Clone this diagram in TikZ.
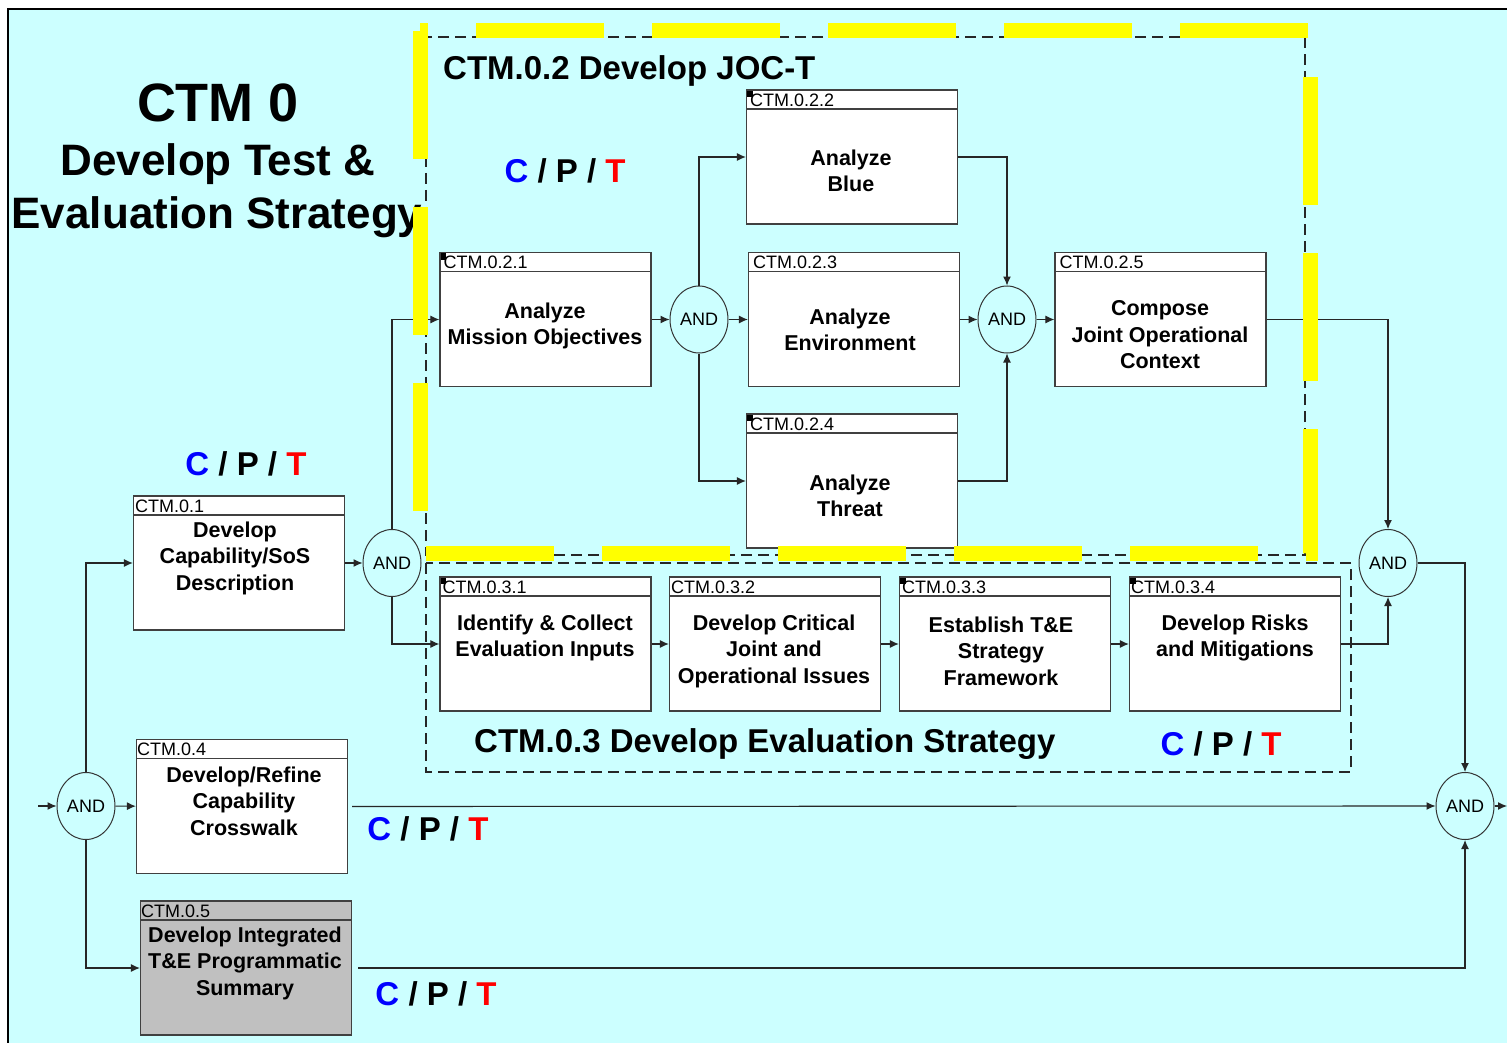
\documentclass[tikz,border=0pt]{standalone}
\usepackage{fontspec}
\setmainfont{Liberation Sans}
\usetikzlibrary{arrows.meta, positioning, shapes.geometric}

\definecolor{sheet}{RGB}{204,255,255}
\definecolor{marker}{RGB}{255,255,0}
\definecolor{cblue}{RGB}{0,0,255}
\definecolor{tred}{RGB}{255,0,0}
\definecolor{shade}{RGB}{192,192,192}

\newcommand{\cpt}{{\color{cblue}C} / P / {\color{tred}T}}

\begin{document}
\begin{tikzpicture}[
    x=1pt, y=-1pt,
    taskbox/.style={
        rectangle,
        draw=black!75,
        line width=1.2pt,
        fill=white,
        minimum width=211pt,
        minimum height=134pt,
        inner sep=0pt,
        path picture={
            \draw[black!75, line width=1.2pt] ([yshift=-19pt]path picture bounding box.north west) -- ([yshift=-19pt]path picture bounding box.north east);
        }
    },
    marked/.style={
        taskbox,
        path picture={
            \draw[black!75, line width=1.2pt] ([yshift=-19pt]path picture bounding box.north west) -- ([yshift=-19pt]path picture bounding box.north east);
            \fill[black] (path picture bounding box.north west) rectangle ([xshift=6pt, yshift=-7pt]path picture bounding box.north west);
        }
    },
    idtext/.style={font=\fontsize{18}{20}\selectfont, inner sep=0pt, anchor=base west},
    tasktext/.style={font=\fontsize{21.5}{26.5}\selectfont\bfseries, align=center, inner sep=0pt},
    gate/.style={
        ellipse,
        draw=black!80,
        line width=1pt,
        minimum width=58pt,
        minimum height=67pt,
        inner sep=0pt,
        font=\fontsize{18}{20}\selectfont
    },
    conn/.style={-{Latex[length=9pt, width=8pt]}, line width=1.1pt, draw=black!85},
    group/.style={draw=black!85, line width=1.5pt, dash pattern=on 11pt off 6pt},
    hilite/.style={draw=marker, line width=15pt, dash pattern=on 128pt off 48pt},
    cptlabel/.style={font=\fontsize{33}{36}\selectfont\bfseries, inner sep=0pt, anchor=base},
    sectitle/.style={font=\fontsize{33}{36}\selectfont\bfseries, inner sep=0pt, anchor=base west}
]

% Sheet
\useasboundingbox (0,0) rectangle (1507,1043);
\fill[white] (0,0) rectangle (1507,1043);
\fill[sheet] (8,9) rectangle (1507,1043);
\draw[line width=2.5pt] (8,1043) -- (8,9) -- (1507,9);

% Title
\node[inner sep=0pt, anchor=base, font=\fontsize{54}{60}\selectfont\bfseries] (t0) at (218,122) {CTM 0};
\node[inner sep=0pt, anchor=base, font=\fontsize{44}{50}\selectfont\bfseries] (t1) at (218,176) {Develop Test \&};
\node[inner sep=0pt, anchor=base, font=\fontsize{44}{50}\selectfont\bfseries] (t2) at (217,229) {Evaluation Strategy};

% Groups
\draw[group] (426,37) rectangle (1305,555);
\draw[group] (426,563) rectangle (1351,772);
\node[sectitle] (g02t) at (443,80) {CTM.0.2 Develop JOC-T};
\node[sectitle] (g03t) at (474,752) {CTM.0.3 Develop Evaluation Strategy};

% Gates
\node[gate] (a1) at (86,806) {AND};
\node[gate] (a2) at (392,563) {AND};
\node[gate] (a3) at (699,319.5) {AND};
\node[gate] (a4) at (1007,319.5) {AND};
\node[gate] (a5) at (1388,563) {AND};
\node[gate] (a6) at (1465,806) {AND};

% Tasks
\node[taskbox] (b01) at (239,563) {};
\node[idtext] (b01id) at ([xshift=2pt, yshift=-17pt]b01.north west) {CTM.0.1};
\node[tasktext] (b01t) at (235,558) {Develop\\Capability/SoS\\Description};

\node[marked] (b021) at (545.5,319.5) {};
\node[idtext] (b021id) at ([xshift=4pt, yshift=-17pt]b021.north west) {CTM.0.2.1};
\node[tasktext] (b021t) at (545,326) {Analyze\\Mission Objectives};

\node[marked] (b022) at (852,157) {};
\node[idtext] (b022id) at ([xshift=4pt, yshift=-17pt]b022.north west) {CTM.0.2.2};
\node[tasktext] (b022t) at (851,171) {Analyze\\Blue};

\node[taskbox] (b023) at (854,319.5) {};
\node[idtext] (b023id) at ([xshift=5pt, yshift=-17pt]b023.north west) {CTM.0.2.3};
\node[tasktext] (b023t) at (850,330) {Analyze\\Environment};

\node[marked] (b024) at (852,481) {};
\node[idtext] (b024id) at ([xshift=4pt, yshift=-17pt]b024.north west) {CTM.0.2.4};
\node[tasktext] (b024t) at (850,496) {Analyze\\Threat};

\node[taskbox] (b025) at (1160.5,319.5) {};
\node[idtext] (b025id) at ([xshift=5pt, yshift=-17pt]b025.north west) {CTM.0.2.5};
\node[tasktext] (b025t) at (1160,335) {Compose\\Joint Operational\\Context};

\node[marked] (b031) at (545.5,644) {};
\node[idtext] (b031id) at ([xshift=3pt, yshift=-17pt]b031.north west) {CTM.0.3.1};
\node[tasktext] (b031t) at (545,638) {Identify \& Collect\\Evaluation Inputs};

\node[taskbox] (b032) at (775,644) {};
\node[idtext] (b032id) at ([xshift=2pt, yshift=-17pt]b032.north west) {CTM.0.3.2};
\node[tasktext] (b032t) at (774,651) {Develop Critical\\Joint and\\Operational Issues};

\node[marked] (b033) at (1005,644) {};
\node[idtext] (b033id) at ([xshift=3pt, yshift=-17pt]b033.north west) {CTM.0.3.3};
\node[tasktext] (b033t) at (1001,651) {Establish T\&E\\Strategy\\Framework};

\node[marked] (b034) at (1235,644) {};
\node[idtext] (b034id) at ([xshift=2pt, yshift=-17pt]b034.north west) {CTM.0.3.4};
\node[tasktext] (b034t) at (1235,638) {Develop Risks\\and Mitigations};

\node[taskbox] (b04) at (242,806.5) {};
\node[idtext] (b04id) at ([xshift=1pt, yshift=-17pt]b04.north west) {CTM.0.4};
\node[tasktext] (b04t) at (244,801) {Develop/Refine\\Capability\\Crosswalk};

\node[taskbox, fill=shade] (b05) at (246,968) {};
\node[idtext] (b05id) at ([xshift=1pt, yshift=-17pt]b05.north west) {CTM.0.5};
\node[tasktext] (b05t) at (245,963) {Develop Integrated\\T\&E Programmatic\\Summary};

% C/P/T tags
\node[cptlabel] (c02) at (565,183) {\cpt};
\node[cptlabel] (c01) at (246,475) {\cpt};
\node[cptlabel] (c03) at (1221,755) {\cpt};
\node[cptlabel] (c04) at (428,840) {\cpt};
\node[cptlabel] (c05) at (436,1005) {\cpt};

% Flow
\coordinate (src) at (38,806);
\coordinate (snk) at (1507,806);
\draw[conn] (src) -- (a1);
\draw[conn] (a1) -- (b04);
\draw[conn] (a1.north) |- (b01.west);
\draw[conn] (a1.south) |- (b05.west);
\draw[conn] (b01) -- (a2);
\draw[conn] (a2.north) |- (b021.west);
\draw[conn] (a2.south) |- (b031.west);
\draw[conn] (b021) -- (a3);
\draw[conn] (a3) -- (b023);
\draw[conn] (a3.north) |- (b022.west);
\draw[conn] (a3.south) |- (b024.west);
\draw[conn] (b022.east) -| (a4.north);
\draw[conn] (b023) -- (a4);
\draw[conn] (b024.east) -| (a4.south);
\draw[conn] (a4) -- (b025);
\draw[conn] (b025.east) -| (a5.north);
\draw[conn] (b031) -- (b032);
\draw[conn] (b032) -- (b033);
\draw[conn] (b033) -- (b034);
\draw[conn] (b034.east) -| (a5.south);
\draw[conn] (a5.east) -| (a6.north);
\draw[conn, shorten <=4pt] (b04.east) -- (a6.west);
\draw[conn, shorten <=6pt] (b05.east) -| (a6.south);
\draw[conn] (a6) -- (snk);

% Yellow highlight
\draw[hilite] (420,31) -- (420,553) -- (1310,553) -- (1310,31) -- cycle;

\end{tikzpicture}
\end{document}
